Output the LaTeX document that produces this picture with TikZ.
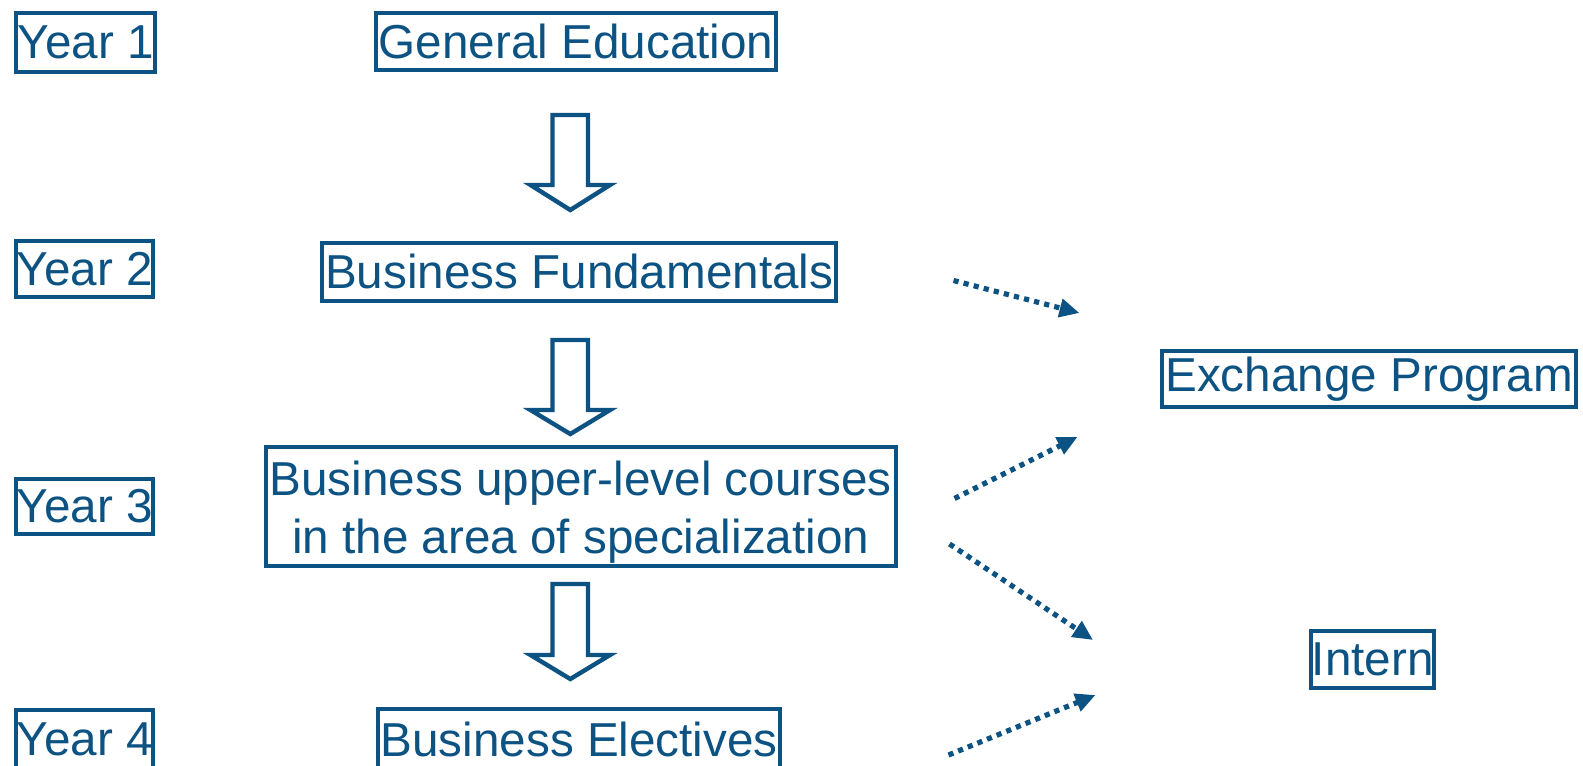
\documentclass[tikz,border=0pt]{standalone}
\usepackage{fontspec}
\setmainfont{Liberation Sans}
\usetikzlibrary{arrows.meta}
\definecolor{dblue}{RGB}{12,82,130}
\begin{document}
\begin{tikzpicture}[x=0.5pt,y=-0.5pt,
  box/.style={draw=dblue,line width=2pt,text=dblue,inner sep=0pt,
    font=\fontsize{23.6}{29}\selectfont,align=center},
  blockarrow/.style={draw=dblue,line width=2.2pt,fill=white,line join=miter},
  dotarrow/.style={draw=dblue,line width=2.6pt,dash pattern=on 2.6pt off 2.6pt,
    -{Triangle[length=10pt,width=9pt]}}]
\useasboundingbox (0,0) rectangle (1583,765);
\clip (0,0) rectangle (1583,765);
\begin{scope}[scale=1.009,transform shape]
% year labels
\node[box,minimum width=69pt,minimum height=29pt] (y1) at (85,42) {Year 1};
\node[box,minimum width=68pt,minimum height=28pt] (y2) at (84,266.5) {Year 2};
\node[box,minimum width=68pt,minimum height=27.5pt] (y3) at (84,502) {Year 3};
\node[box,minimum width=68pt,minimum height=29pt] (y4) at (84,732.5) {Year 4};
% main column
\node[box,minimum width=198pt,minimum height=28.5pt] (ge) at (571,41) {General Education};
\node[box,minimum width=255pt,minimum height=29pt] (bf) at (574,269.5) {Business Fundamentals};
\node[box,minimum width=312pt,minimum height=59pt] (bu) at (575.5,502)
  {\raisebox{-3.2pt}[\height][\depth]{\begin{tabular}{@{}c@{}}Business upper-level courses\\in the area of specialization\end{tabular}}};
\node[box,minimum width=199pt,minimum height=30pt] (be) at (574,733) {Business Electives};
% right side
\node[box,minimum width=205pt,minimum height=28pt] (ex) at (1357,375.5) {Exchange Program};
\node[box,minimum width=61pt,minimum height=28pt] (in) at (1360.5,653.5) {Intern};
\end{scope}
% block arrows (true pixel coordinates)
\foreach \t/\b/\p in {115/185/210, 340/410/434, 584/655/679}{
  \path[blockarrow] (552.5,\t) -- (588,\t) -- (588,\b) -- (610,\b) -- (570.3,\p)
     -- (530.5,\b) -- (552.5,\b) -- cycle;
}
% dotted arrows (true pixel coordinates)
\coordinate (a1s) at (953.5,280.5); \coordinate (a1e) at (1079.5,313);
\coordinate (a2s) at (954.5,498.5); \coordinate (a2e) at (1077.5,437);
\coordinate (a3s) at (949.5,544);   \coordinate (a3e) at (1093,640);
\coordinate (a4s) at (948.5,755);   \coordinate (a4e) at (1095.5,695);
\draw[dotarrow] (a1s) -- (a1e);
\draw[dotarrow] (a2s) -- (a2e);
\draw[dotarrow] (a3s) -- (a3e);
\draw[dotarrow] (a4s) -- (a4e);
\end{tikzpicture}
\end{document}
